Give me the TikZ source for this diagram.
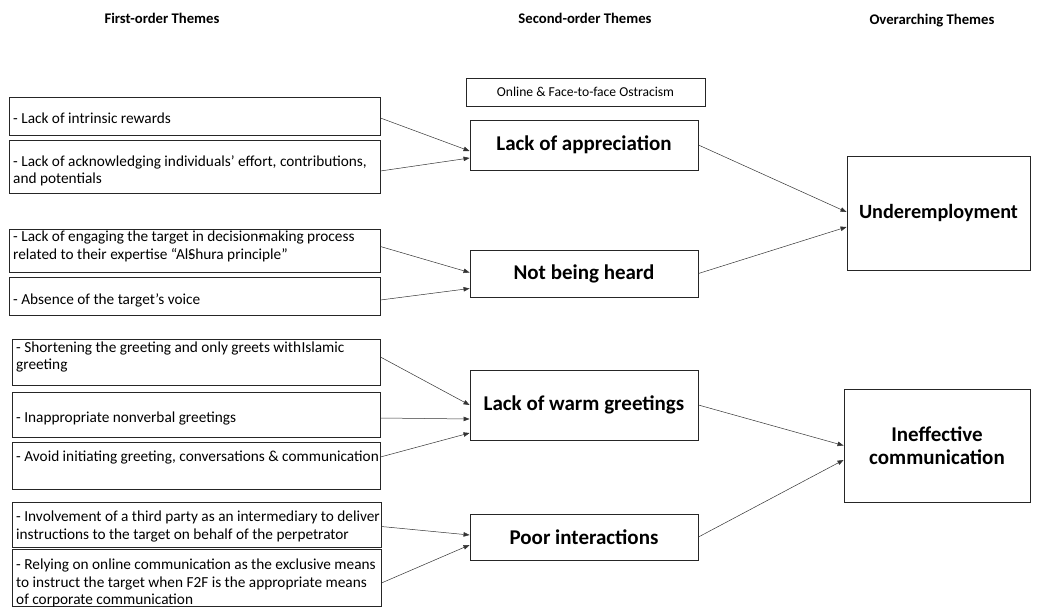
\documentclass[tikz,border=0pt]{standalone}
\usepackage{fontspec}
\setmainfont{Carlito}
\usetikzlibrary{arrows.meta,calc}
\begin{document}
\begin{tikzpicture}[x=1pt,y=-1pt,
  box/.style={draw=black!85, line width=0.9pt, inner sep=0pt},
  ltxt/.style={font=\fontsize{15.3}{17.2}\selectfont, align=left, inner sep=0pt, anchor=west},
  theme/.style={draw=black!85, line width=0.9pt, font=\bfseries\fontsize{21}{22.5}\selectfont, align=center, inner sep=0pt},
  head/.style={font=\bfseries\fontsize{14.7}{16}\selectfont, inner sep=0pt, anchor=base},
  link/.style={-{Triangle[length=6pt,width=4.5pt]}, line width=0.5pt, black!80}]
\useasboundingbox (0,0) rectangle (1037,608);

% column headings
\node[head] (h1) at (162,23) {First-order Themes};
\node[head] (h2) at (585,23) {Second-order Themes};
\node[head] (h3) at (932,24) {Overarching Themes};

% first-order boxes
\node[box, minimum width=371, minimum height=38] (b1) at (194.5,116) {};
\node[box, minimum width=371, minimum height=53] (b2) at (194.5,166.5) {};
\node[box, minimum width=371, minimum height=43] (b3) at (194.5,250.5) {};
\node[box, minimum width=371, minimum height=38] (b4) at (194.5,296) {};
\node[box, minimum width=368, minimum height=46] (b5) at (196,362) {};
\node[box, minimum width=368, minimum height=45] (b6) at (196,414.5) {};
\node[box, minimum width=368, minimum height=47] (b7) at (196,465.5) {};
\node[box, minimum width=369, minimum height=45] (b8) at (196.5,524.5) {};
\node[box, minimum width=369, minimum height=57] (b9) at (196.5,577.5) {};

\node[ltxt] (t1) at (13,118) {- Lack of intrinsic rewards};
\node[ltxt] (t2) at (13,171) {- Lack of acknowledging individuals’ effort, contributions,\\and potentials};
\node[ltxt] (t3) at (13,246.5) {- Lack of engaging the target in decision\rlap{-}making process\\related to their expertise “Al\rlap{-}Shura principle”};
\node[ltxt] (t4) at (13,300) {- Absence of the target’s voice};
\node[ltxt] (t5) at (16,357) {- Shortening the greeting and only greets with\hspace{0.5pt}Islamic\\greeting};
\node[ltxt] (t6) at (16,418) {- Inappropriate nonverbal greetings};
\node[ltxt] (t7) at (16,457) {- Avoid initiating greeting, conversations \& communication};
\node[ltxt] (t8) at (16,526.5) {- Involvement of a third party as an intermediary to deliver\\instructions to the target on behalf of the perpetrator};
\node[ltxt] (t9) at (16,583) {- Relying on online communication as the exclusive means\\to instruct the target when F2F is the appropriate means\\of corporate communication};

% second-order themes
\node[box, minimum width=239, minimum height=28, font=\fontsize{13.6}{15}\selectfont] (ost) at (585.5,92) {Online \& Face-to-face Ostracism};
\node[theme, minimum width=228, minimum height=50] (m1) at (584,145) {Lack of appreciation};
\node[theme, minimum width=228, minimum height=47] (m2) at (584,273.5) {Not being heard};
\node[theme, minimum width=228, minimum height=70] (m3) at (584,405) {Lack of warm greetings};
\node[theme, minimum width=228, minimum height=46] (m4) at (584,537) {Poor interactions};

% overarching themes
\node[theme, minimum width=183, minimum height=114, font=\bfseries\fontsize{20.2}{22.5}\selectfont] (r1) at (938.5,213) {Underemployment};
\node[theme, minimum width=186, minimum height=113] (r2) at (937,445.5) {Ineffective\\communication};

% first-order -> second-order
\draw[link] (t1 -| b1.east) -- ($(m1.west)+(0,6)$);
\draw[link] (t2 -| b2.east) -- ($(m1.west)+(0,13)$);
\draw[link] (t3 -| b3.east) -- ($(m2.west)+(0,-1)$);
\draw[link] (t4 -| b4.east) -- ($(m2.west)+(0,15)$);
\draw[link] (t5 -| b5.east) -- ($(m3.west)+(0,0)$);
\draw[link] (t6 -| b6.east) -- ($(m3.west)+(0,14)$);
\draw[link] (t7 -| b7.east) -- ($(m3.west)+(0,28)$);
\draw[link] (t8 -| b8.east) -- ($(m4.west)+(0,-2)$);
\draw[link] (t9 -| b9.east) -- ($(m4.west)+(0,8)$);

% second-order -> overarching
\draw[link] (m1.east) -- ($(r1.west)+(0,-1)$);
\draw[link] (m2.east) -- ($(r1.west)+(0,14)$);
\draw[link] (m3.east) -- ($(r2.west)+(0,0)$);
\draw[link] (m4.east) -- ($(r2.west)+(0,14.5)$);
\end{tikzpicture}
\end{document}
